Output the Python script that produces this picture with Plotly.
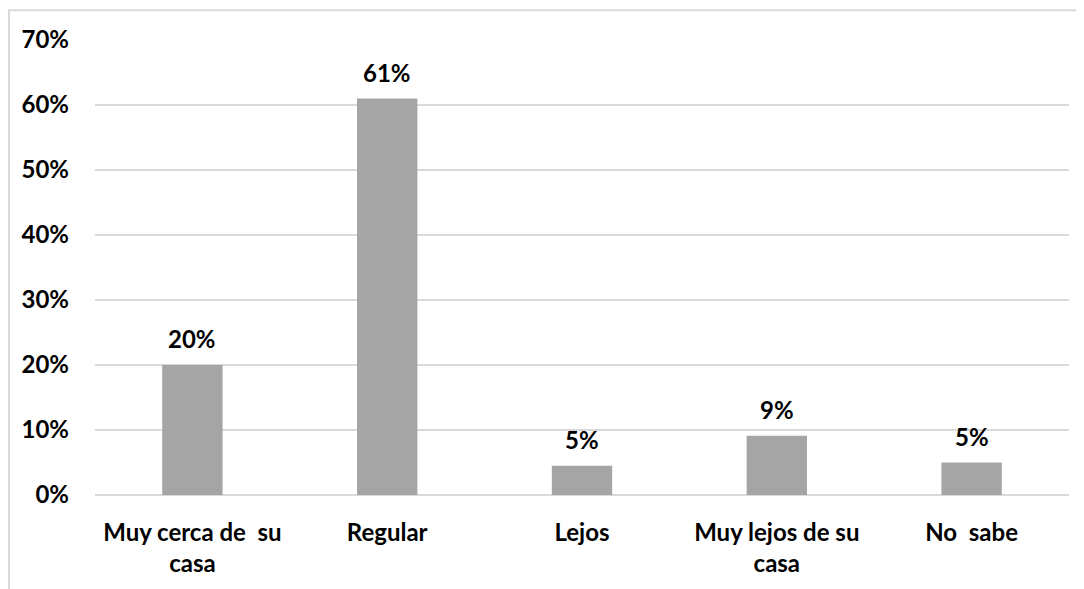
import plotly.graph_objects as go

categories = ["Muy cerca de  su<br>casa", "Regular", "Lejos", "Muy lejos de su<br>casa", "No  sabe"]
values = [20.0, 61.0, 4.5, 9.1, 5.0]
value_labels = ["20%", "61%", "5%", "9%", "5%"]
y_ticks = [0, 10, 20, 30, 40, 50, 60, 70]
y_tick_labels = ["0%", "10%", "20%", "30%", "40%", "50%", "60%", "70%"]

FONT = "Lato, Carlito, Calibri, sans-serif"
FS = 24

fig = go.Figure()
fig.add_trace(go.Bar(
    x=categories,
    y=values,
    marker=dict(color="#A5A5A5", line=dict(width=0)),
    width=0.31,
    hoverinfo="skip",
))

for c, v, s in zip(categories, values, value_labels):
    fig.add_annotation(
        x=c, y=v, text=s, showarrow=False,
        yanchor="bottom", yshift=10,
        font=dict(family=FONT, size=FS, color="#000000", weight="bold"),
    )

OFF = 8  # default page body margin
W, H = 1084 - OFF, 589 - OFF
l, t = 95 - OFF, 40 - OFF
pw, ph = 974, 457
r = W - l - pw
b = H - t - ph

fig.update_layout(
    width=W, height=H,
    margin=dict(l=l, r=r, t=t, b=b),
    paper_bgcolor="white",
    plot_bgcolor="white",
    showlegend=False,
    font=dict(family=FONT, size=FS, color="#000000", weight="bold"),
    xaxis=dict(
        showgrid=False, showline=False, zeroline=False,
        tickfont=dict(family=FONT, size=FS, color="#000000", weight="bold"),
        ticklabelstandoff=21,
    ),
    yaxis=dict(
        range=[0, 70],
        tickvals=y_ticks,
        ticktext=y_tick_labels,
        showgrid=True, gridcolor="#D9D9D9", gridwidth=1.5,
        zeroline=True, zerolinecolor="#D9D9D9", zerolinewidth=1.5,
        showline=False,
        tickfont=dict(family=FONT, size=FS, color="#000000", weight="bold"),
        ticklabelstandoff=25,
    ),
    shapes=[dict(
        type="rect", xref="paper", yref="paper",
        x0=(1 - l) / pw, x1=1.5,
        y0=-1.0, y1=1 + (t - 2) / ph,
        line=dict(color="#D9D9D9", width=2),
        fillcolor="rgba(0,0,0,0)",
        layer="below",
    )],
)

fig.write_html("out.html", config={"displayModeBar": False})
